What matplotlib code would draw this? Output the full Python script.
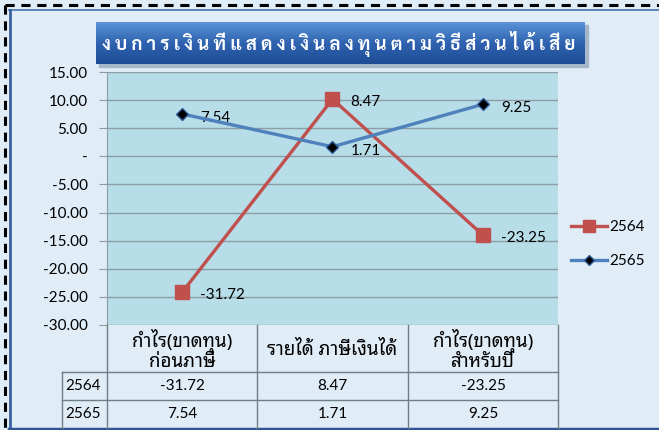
import matplotlib
matplotlib.use("Agg")
import matplotlib.pyplot as plt
from matplotlib.lines import Line2D
from matplotlib.patches import Rectangle
from matplotlib.colors import LinearSegmentedColormap
import numpy as np

# data
categories = ['กำไร(ขาดทุน)\nก่อนภาษี', 'รายได้ ภาษีเงินได้', 'กำไร(ขาดทุน)\nสำหรับปี']
series_names = ['2564', '2565']
v2564 = [-31.72, 8.47, -23.25]
v2565 = [7.54, 1.71, 9.25]
yticks = [15, 10, 5, 0, -5, -10, -15, -20, -25, -30]
title = 'งบการเงินที่แสดงเงินลงทุนตามวิธีส่วนได้เสีย'

# stacked line chart: 2564 sits on top of 2565
stack2564 = [a + b for a, b in zip(v2564, v2565)]

W, H = 659, 430
fonts = ['Lato', 'Noto Sans Thai Looped', 'DejaVu Sans']
thai = ['Noto Sans Thai Looped', 'Lato', 'DejaVu Sans']
plt.rcParams['font.family'] = fonts

red = '#C0504D'
blue = '#4F81BD'
gridc = '#8C9DA3'
tablec = '#6F7F86'


def fx(px):
    return px / W


def fy(py):
    return 1 - py / H


fig = plt.figure(figsize=(6.59, 4.30), dpi=100)
fig.patch.set_facecolor('#E0ECF6')

# frame lines
fig.add_artist(Line2D([fx(5), fx(659)], [fy(5), fy(5)], color='black', lw=2.2, ls=(0, (3, 2.2))))
fig.add_artist(Line2D([fx(5), fx(5)], [fy(5), fy(430)], color='black', lw=2.2, ls=(0, (3, 2.2))))
fig.add_artist(Line2D([fx(9), fx(659)], [fy(10), fy(10)], color='#4A72A8', lw=1.2))
fig.add_artist(Line2D([fx(9.5), fx(9.5)], [fy(10), fy(430)], color='#3A62A0', lw=2))
fig.add_artist(Line2D([fx(9), fx(659)], [fy(428.5), fy(428.5)], color='#2F5597', lw=2.5))

# title box with gradient
tax = fig.add_axes([fx(96), fy(64), fx(585 - 96), fy(22) - fy(64)])
grad = np.linspace(0, 1, 100).reshape(-1, 1)
cm = LinearSegmentedColormap.from_list('t', ['#5B93D6', '#2F63B0', '#1E4C95'])
tax.imshow(grad, aspect='auto', cmap=cm, extent=[0, 1, 0, 1], origin='upper')
tax.set_axis_off()
fig.add_artist(Rectangle((fx(99), fy(67)), fx(585 - 96), fy(22) - fy(64), color='#A5B8CB',
                         zorder=-1, transform=fig.transFigure))

# spaced out title text (keep Thai marks attached)
marks = set(chr(c) for c in [0x0E31] + list(range(0x0E34, 0x0E3B)) + list(range(0x0E47, 0x0E4F)))
clusters = []
for ch in title:
    if ch in marks and clusters:
        clusters[-1] += ch
    else:
        clusters.append(ch)
fig.text(fx(339), fy(44), ' '.join(clusters), color='white', fontsize=13.3, fontweight='bold',
         ha='center', va='center', family=['Sarabun', 'DejaVu Sans'])

# main plot
ax = fig.add_axes([fx(107), fy(325), fx(558 - 107), fy(72) - fy(325)])
ax.set_facecolor('#B7DDE8')
x = np.arange(len(categories))
ax.set_xlim(-0.5, len(categories) - 0.5)
ax.set_ylim(-30, 15)
ax.set_yticks(yticks)
ax.set_yticklabels(['-' if t == 0 else f'{t:.2f}' for t in yticks], fontsize=11)
ax.set_xticks([])
ax.tick_params(axis='y', length=6, color=gridc, pad=8)
for s in ['top', 'right', 'bottom']:
    ax.spines[s].set_visible(False)
ax.spines['left'].set_color(gridc)
ax.grid(axis='y', color=gridc, lw=1)
ax.set_axisbelow(True)

ax.plot(x, stack2564, color=red, lw=2.4, marker='s', markersize=9.5, mfc=red, mec=red, zorder=3)
ax.plot(x, v2565, color=blue, lw=2.4, marker='D', markersize=6, mfc='black', mec='#2E5C99',
        mew=1, zorder=4)

for xi, yv, lab in zip(x, stack2564, v2564):
    ax.annotate(f'{lab:.2f}', (xi, yv), xytext=(13, -2), textcoords='offset points',
                fontsize=11, va='center', ha='left')
for xi, yv, lab in zip(x, v2565, v2565):
    ax.annotate(f'{lab:.2f}', (xi, yv), xytext=(13, -3), textcoords='offset points',
                fontsize=11, va='center', ha='left')

# legend
h1 = Line2D([], [], color=red, lw=2.4, marker='s', markersize=8, mfc=red, mec=red)
h2 = Line2D([], [], color=blue, lw=2.4, marker='D', markersize=5.5, mfc='black', mec='#2E5C99')
fig.legend([h1, h2], series_names, loc='center left', bbox_to_anchor=(fx(557), fy(244)),
           frameon=False, fontsize=11, handlelength=2.4, handletextpad=0.1, labelspacing=1.3)

# data table below plot
col_x = [107, 257, 408, 558]
hdr_top, row1, row2, bottom = 325, 372, 400, 428
lk = dict(color=tablec, lw=1)
for cx in col_x:
    fig.add_artist(Line2D([fx(cx), fx(cx)], [fy(hdr_top), fy(bottom)], **lk))
fig.add_artist(Line2D([fx(62), fx(62)], [fy(row1), fy(bottom)], **lk))
for ry in [row1, row2]:
    fig.add_artist(Line2D([fx(62), fx(558)], [fy(ry), fy(ry)], **lk))

for i, cat in enumerate(categories):
    cx = (col_x[i] + col_x[i + 1]) / 2
    fig.text(fx(cx), fy(350), cat, ha='center', va='center', fontsize=13.5, linespacing=0.95,
             family=thai)
    fig.text(fx(cx), fy(386), f'{v2564[i]:.2f}', ha='center', va='center', fontsize=11)
    fig.text(fx(cx), fy(414), f'{v2565[i]:.2f}', ha='center', va='center', fontsize=11)
fig.text(fx(65), fy(386), series_names[0], ha='left', va='center', fontsize=11)
fig.text(fx(65), fy(414), series_names[1], ha='left', va='center', fontsize=11)

fig.savefig('out.png', dpi=100, facecolor=fig.get_facecolor())
